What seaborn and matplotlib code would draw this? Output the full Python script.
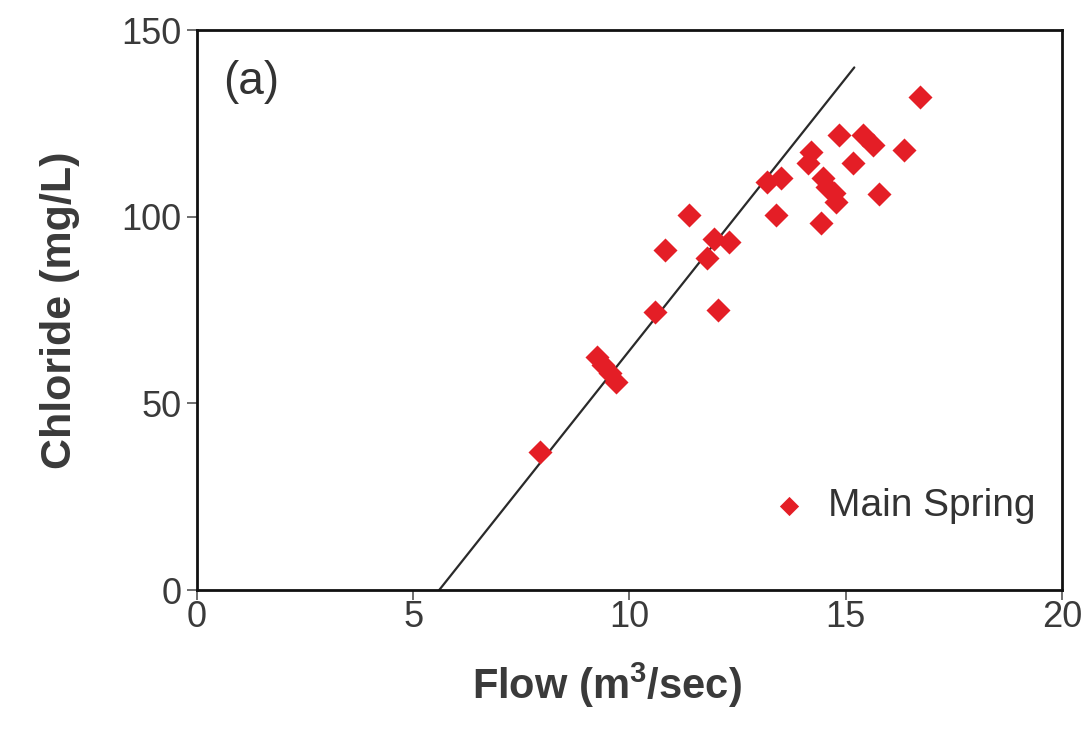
import pandas as pd
import matplotlib.pyplot as plt
import seaborn as sns

# Dados (Main Spring)
flow = [7.94, 9.24, 9.4, 9.56, 9.7, 10.6, 12.04, 10.83, 11.37, 11.8, 11.95, 12.3,
        13.19, 13.5, 13.38, 14.19, 14.14, 14.47, 14.58, 14.74, 14.77, 14.42,
        14.84, 15.4, 15.63, 15.16, 15.76, 16.34, 16.72]
chloride = [37, 62.5, 60.3, 58.2, 55.8, 74.5, 75, 91, 100.5, 89, 94, 93.3,
            109.4, 110.5, 100.5, 117.4, 114.5, 110.4, 108, 106.5, 104, 98.4,
            122, 122, 119.3, 114.5, 106, 118, 132]

# Linha de tendência (extremos)
fit_flow = [5.6, 15.2]
fit_chloride = [0, 140]

x_ticks = [0, 5, 10, 15, 20]
y_ticks = [0, 50, 100, 150]

sns.set_style("white")
plt.rcParams['font.family'] = ['Liberation Sans', 'DejaVu Sans']
plt.rcParams['mathtext.fontset'] = 'custom'
plt.rcParams['mathtext.rm'] = 'Liberation Sans'
plt.rcParams['mathtext.bf'] = 'Liberation Sans:bold'

df = pd.DataFrame({'flow': flow, 'chloride': chloride})
linha = pd.DataFrame({'flow': fit_flow, 'chloride': fit_chloride})

fig, ax = plt.subplots(figsize=(10.88, 7.34), dpi=100)
fig.subplots_adjust(left=0.181, right=0.976, top=0.959, bottom=0.196)

sns.lineplot(data=linha, x='flow', y='chloride', color='#2a2a2a', linewidth=1.6, ax=ax)
sns.scatterplot(data=df, x='flow', y='chloride', marker='D', s=150, color='#e41e26',
                edgecolor='#e41e26', linewidth=0, label='Main Spring', ax=ax, zorder=3)

ax.set_xlim(0, 20)
ax.set_ylim(0, 150)
ax.set_xticks(x_ticks)
ax.set_yticks(y_ticks)
ax.tick_params(axis='both', direction='out', length=7, width=1.2, color='#555555',
               labelsize=26, labelcolor='#3a3a3a', left=True, bottom=True)
ax.tick_params(axis='x', pad=0)
ax.tick_params(axis='y', pad=4)
for s in ax.spines.values():
    s.set_color('#111111')
    s.set_linewidth(2)

ax.set_xlabel(r'Flow (m$^{\mathbf{3}}$/sec)', fontsize=30, fontweight='bold', color='#3a3a3a')
ax.set_ylabel('Chloride (mg/L)', fontsize=31, fontweight='bold', color='#3a3a3a', labelpad=30)
ax.xaxis.set_label_coords(0.474, -0.125)

ax.text(0.03, 0.885, '(a)', transform=ax.transAxes, fontsize=33, color='#333333')

ax.legend(loc='lower right', bbox_to_anchor=(1.01, 0.055), frameon=False, fontsize=28,
          handletextpad=0.0, markerscale=0.8, labelcolor='#333333')

plt.savefig('out.png', dpi=100)
